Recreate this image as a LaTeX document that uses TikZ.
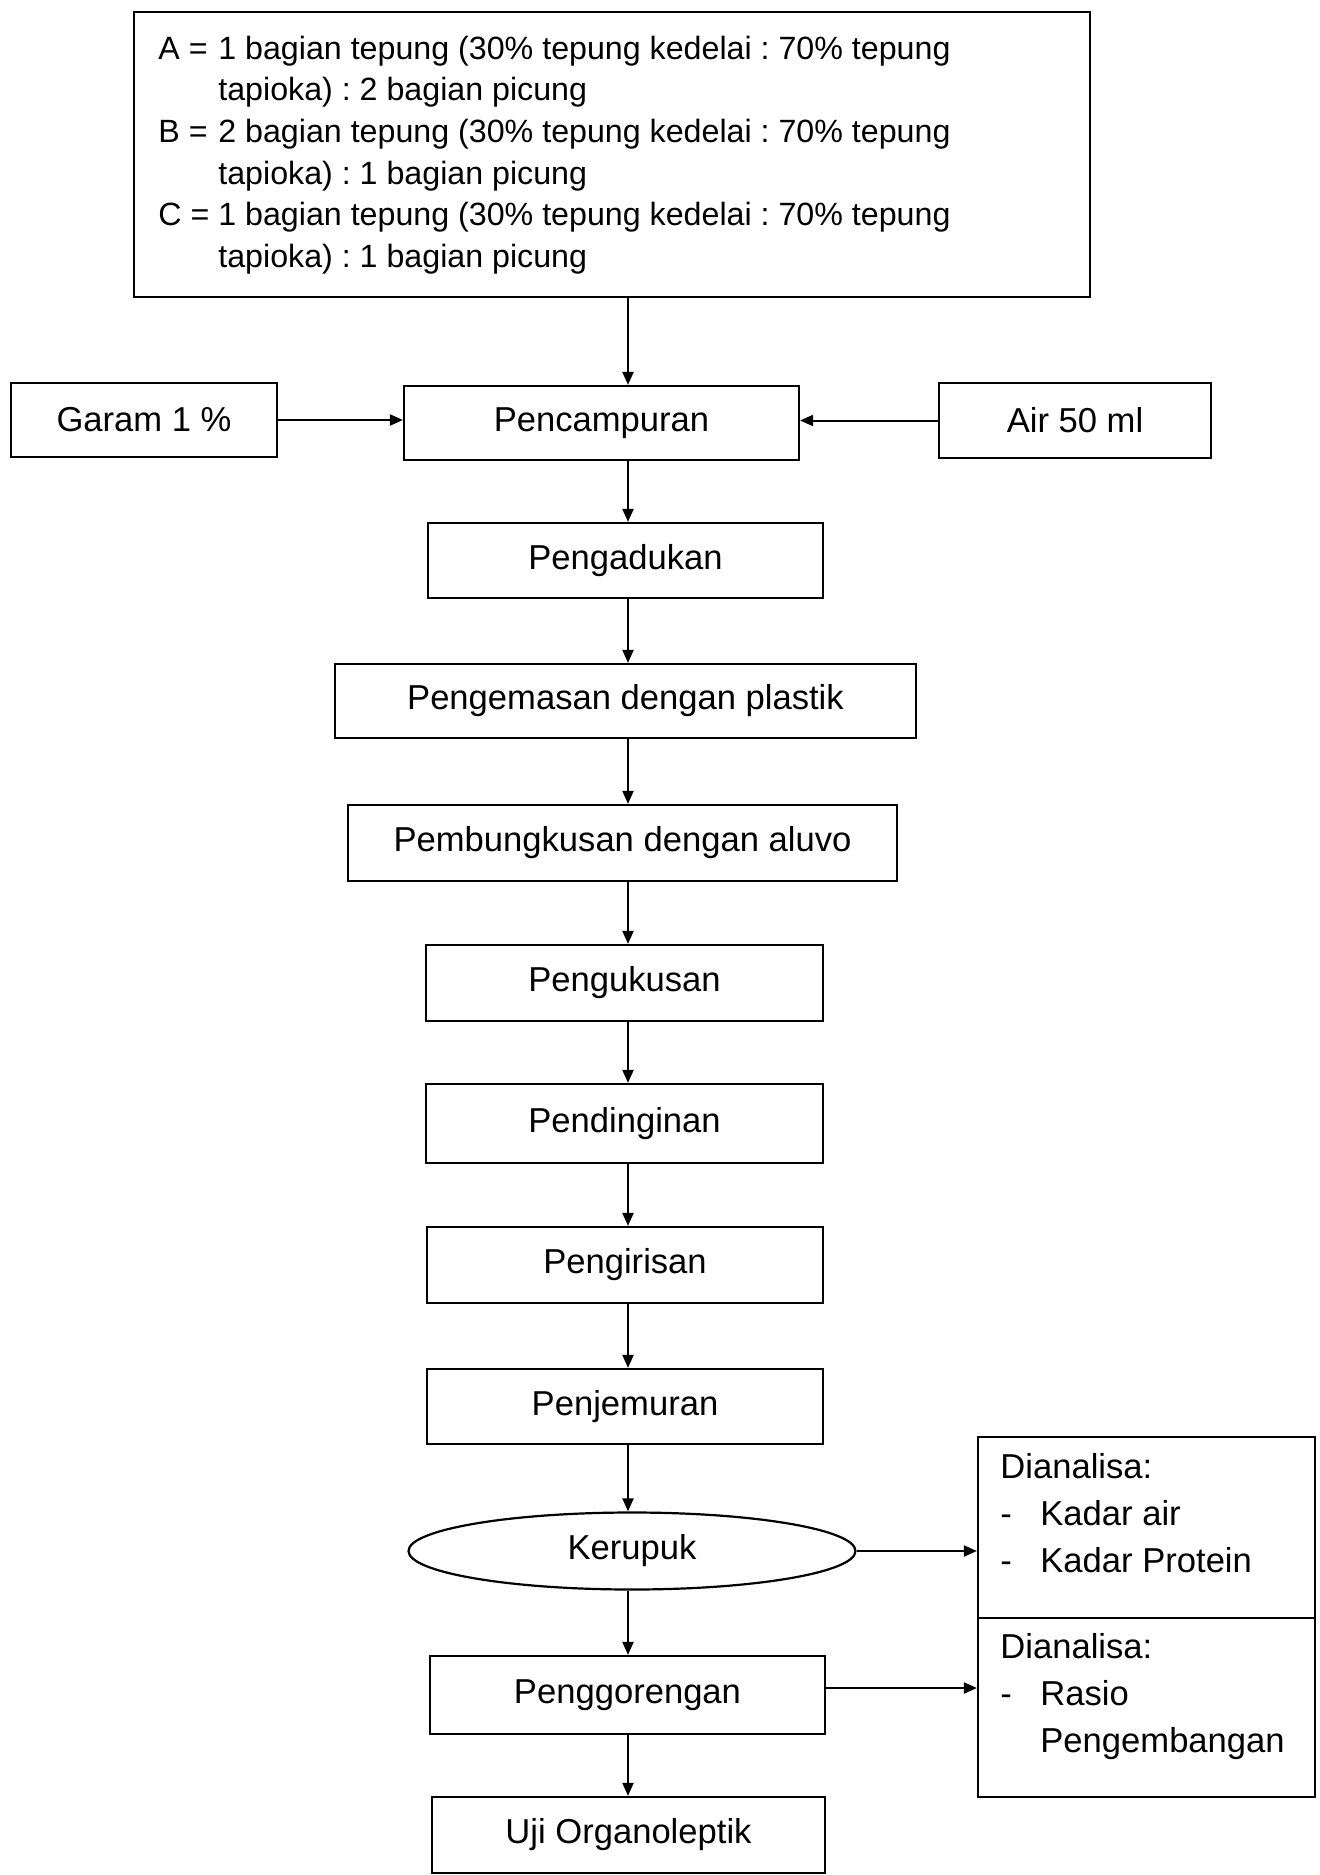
\documentclass[tikz,border=0pt]{standalone}
\usepackage{fontspec}
\setmainfont{Liberation Sans}
\usetikzlibrary{arrows.meta,shapes.geometric}
\frenchspacing
\begin{document}
\begin{tikzpicture}[x=0.5pt,y=-0.5pt,
  box/.style={draw, line width=1.1pt, inner sep=0pt, font=\fontsize{17.3}{20}\selectfont},
  txt/.style={inner sep=0pt, font=\fontsize{17.3}{23.5}\selectfont, align=left},
  toptxt/.style={inner sep=0pt, font=\fontsize{16.1}{20.8}\selectfont},
  arr/.style={line width=1pt, -{Triangle[length=6.5pt,width=5.5pt]}}]
\useasboundingbox (0,0) rectangle (1320,1875);
\coordinate (ax) at (628,0);
% top box
\node[box, minimum width=478pt, minimum height=142.5pt] (top) at (612,154.5) {};
\node[toptxt, anchor=west] (toptext) at (158,155) {\begin{tabular}{@{}l@{ }l@{}}
A = & 1 bagian tepung (30\% tepung kedelai : 70\% tepung\\
 & tapioka) : 2 bagian picung\\
B = & 2 bagian tepung (30\% tepung kedelai : 70\% tepung\\
 & tapioka) : 1 bagian picung\\
C = & 1 bagian tepung (30\% tepung kedelai : 70\% tepung\\
 & tapioka) : 1 bagian picung
\end{tabular}};
% side inputs
\node[box, minimum width=133pt, minimum height=37pt] (garam) at (144,420) {Garam 1 \%};
\node[box, minimum width=197.5pt, minimum height=37pt] (pencampuran) at (601.5,423) {Pencampuran};
\node[box, minimum width=136pt, minimum height=37.5pt] (air) at (1075,420.5) {Air 50 ml};
% main chain
\node[box, minimum width=197.5pt, minimum height=37.5pt] (pengadukan) at (625.5,560.5) {Pengadukan};
\node[box, minimum width=290.5pt, minimum height=37pt] (pengemasan) at (625.5,701) {Pengemasan dengan plastik};
\node[box, minimum width=274.5pt, minimum height=38pt] (pembungkusan) at (622.5,843) {Pembungkusan dengan aluvo};
\node[box, minimum width=198.5pt, minimum height=38pt] (pengukusan) at (624.5,983) {Pengukusan};
\node[box, minimum width=198.5pt, minimum height=39.5pt] (pendinginan) at (624.5,1123.5) {Pendinginan};
\node[box, minimum width=198pt, minimum height=38pt] (pengirisan) at (625,1265) {Pengirisan};
\node[box, minimum width=198pt, minimum height=37.5pt] (penjemuran) at (625,1406.5) {Penjemuran};
\node[box, ellipse, minimum width=223.5pt, minimum height=38.5pt] (kerupuk) at (632,1551) {Kerupuk};
\node[box, minimum width=197.5pt, minimum height=39pt] (penggorengan) at (627.5,1695) {Penggorengan};
\node[box, minimum width=196.5pt, minimum height=38pt] (uji) at (628.5,1835) {Uji Organoleptik};
% analysis boxes
\node[box, minimum width=168.5pt, minimum height=90.5pt] (ana1) at (1146.5,1527.5) {};
\node[box, minimum width=168.5pt, minimum height=89.5pt] (ana2) at (1146.5,1707.5) {};
\node[txt, anchor=west] (ana1txt) at (1000,1516) {\begin{tabular}{@{}p{20pt}@{}l@{}}
\multicolumn{2}{@{}l@{}}{Dianalisa:}\\
- & Kadar air\\
- & Kadar Protein
\end{tabular}};
\node[txt, anchor=west] (ana2txt) at (1000,1696.5) {\begin{tabular}{@{}p{20pt}@{}l@{}}
\multicolumn{2}{@{}l@{}}{Dianalisa:}\\
- & Rasio\\
 & Pengembangan
\end{tabular}};
% connectors
\draw[arr] (top.south -| ax) -- (pencampuran.north -| ax);
\draw[arr] (garam.east) -- (garam.east -| pencampuran.west);
\draw[arr] (air.west) -- (air.west -| pencampuran.east);
\draw[arr] (pencampuran.south -| ax) -- (pengadukan.north -| ax);
\draw[arr] (pengadukan.south -| ax) -- (pengemasan.north -| ax);
\draw[arr] (pengemasan.south -| ax) -- (pembungkusan.north -| ax);
\draw[arr] (pembungkusan.south -| ax) -- (pengukusan.north -| ax);
\draw[arr] (pengukusan.south -| ax) -- (pendinginan.north -| ax);
\draw[arr] (pendinginan.south -| ax) -- (pengirisan.north -| ax);
\draw[arr] (pengirisan.south -| ax) -- (penjemuran.north -| ax);
\draw[arr] (penjemuran.south -| ax) -- (kerupuk.north -| ax);
\draw[arr] (kerupuk.south -| ax) -- (penggorengan.north -| ax);
\draw[arr] (penggorengan.south -| ax) -- (uji.north -| ax);
\draw[arr] (kerupuk.east) -- (kerupuk.east -| ana1.west);
\draw[arr] ([yshift=3.5pt]penggorengan.east) -- ([yshift=3.5pt]penggorengan.east -| ana2.west);
\end{tikzpicture}
\end{document}
